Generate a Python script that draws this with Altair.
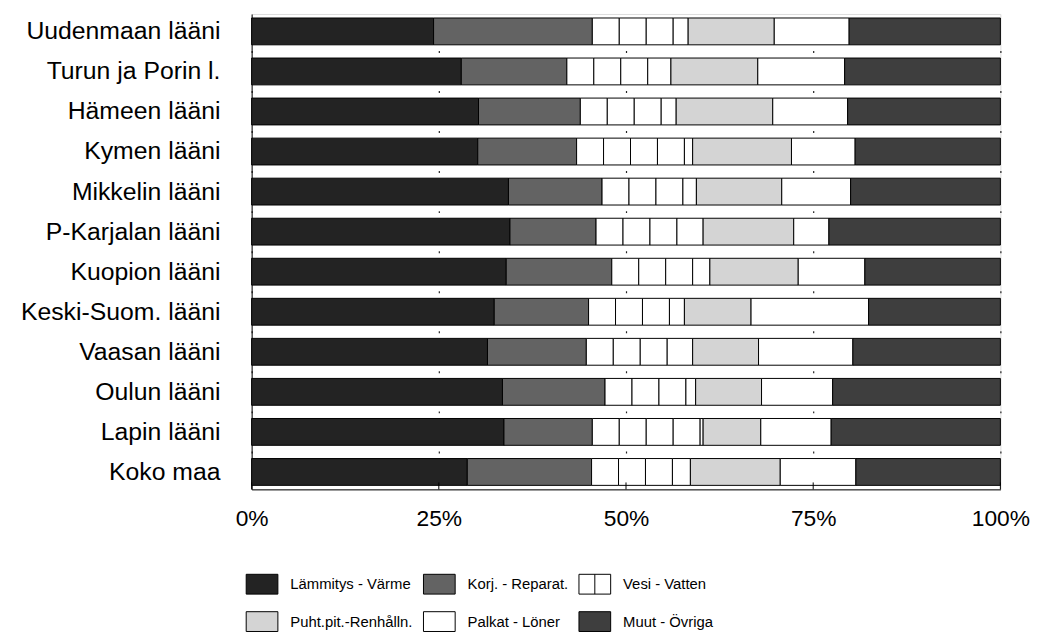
import altair as alt
import pandas as pd

regions = ["Uudenmaan lääni", "Turun ja Porin l.", "Hämeen lääni", "Kymen lääni",
           "Mikkelin lääni", "P-Karjalan lääni", "Kuopion lääni", "Keski-Suom. lääni",
           "Vaasan lääni", "Oulun lääni", "Lapin lääni", "Koko maa"]

lammitys = [24.3, 28.0, 30.3, 30.2, 34.3, 34.5, 34.0, 32.4, 31.5, 33.5, 33.7, 28.8]
korj     = [21.2, 14.1, 13.6, 13.2, 12.5, 11.5, 14.1, 12.6, 13.2, 13.7, 11.8, 16.6]
vesi     = [12.8, 13.9, 12.8, 15.5, 12.6, 14.3, 13.1, 12.8, 14.2, 12.1, 14.8, 13.2]
puht     = [11.5, 11.6, 12.9, 13.2, 11.4, 12.1, 11.8, 8.9, 8.8, 8.8, 7.7, 12.0]
palkat   = [10.0, 11.6, 10.0, 8.5, 9.2, 4.7, 8.9, 15.7, 12.6, 9.5, 9.4, 10.1]
muut     = [20.2, 20.8, 20.4, 19.4, 20.0, 22.9, 18.1, 17.6, 19.7, 22.4, 22.6, 19.3]

series_names = ["Lämmitys - Värme", "Korj. - Reparat.", "Vesi - Vatten",
                "Puht.pit.-Renhålln.", "Palkat - Löner", "Muut - Övriga"]
series_values = [lammitys, korj, vesi, puht, palkat, muut]
series_colors = ["#232323", "#636363", "#ffffff", "#d4d4d4", "#ffffff", "#3e3e3e"]

tick_values = [0, 25, 50, 75, 100]
vesi_stripe = 3.6  # width of the striped cells in the "Vesi" pattern

# legend symbol shapes (rectangles, Vesi with a middle line)
rect_path = "M-1,-0.625H1V0.625H-1Z"
vesi_path = "M-1,-0.625H1V0.625H-1Z M0,-0.625V0.625"
legend_shapes = [rect_path, rect_path, vesi_path, rect_path, rect_path, rect_path]

rows = []
for i, reg in enumerate(regions):
    start = 0.0
    for name, vals in zip(series_names, series_values):
        end = start + vals[i]
        if name == "Vesi - Vatten":
            s = start
            while s < end - 0.3:
                e = min(s + vesi_stripe, end)
                rows.append(dict(region=reg, series=name, x0=s, x1=e))
                s = e
        else:
            rows.append(dict(region=reg, series=name, x0=start, x1=end))
        start = end
df = pd.DataFrame(rows)

FONT = "Liberation Sans"

fill_scale = alt.Scale(domain=series_names, range=series_colors)
legend = alt.Legend(
    title=None, orient="none", legendX=-6, legendY=559, columns=3,
    direction="horizontal",
    symbolSize=1024, symbolStrokeColor="black", symbolStrokeWidth=1,
    labelFontSize=15, labelFont=FONT, labelColor="black", labelOffset=12,
    columnPadding=8, rowPadding=9, labelLimit=300,
)

y_enc = alt.Y(
    "region:N", sort=regions,
    scale=alt.Scale(paddingInner=0.33, paddingOuter=0.1),
    axis=alt.Axis(title=None, ticks=False, domain=True, domainColor="black",
                  domainWidth=1, labelFontSize=25, labelFont=FONT,
                  labelColor="black", labelPadding=32, labelLimit=400),
)
x_enc = alt.X(
    "x0:Q", scale=alt.Scale(domain=[0, 100], nice=False),
    axis=alt.Axis(title=None, values=tick_values, labelExpr="datum.value + '%'",
                  ticks=False, domain=True, domainColor="black", domainWidth=1,
                  labelFontSize=23, labelFont=FONT, labelColor="black",
                  labelPadding=18, labelFlush=False,
                  grid=True, gridColor="#222", gridWidth=1.2,
                  gridDash=[2, 38.44], gridDashOffset=3.64),
)

bars = alt.Chart(df).mark_bar(stroke="black", strokeWidth=1, opacity=1).encode(
    y=y_enc,
    x=x_enc,
    x2="x1:Q",
    fill=alt.Fill("series:N", scale=fill_scale, legend=legend),
)

legend_layer = alt.Chart(df).transform_filter("datum.x0 < -1").mark_point(
    filled=True, opacity=1, stroke="black", strokeWidth=1
).encode(
    y=alt.Y("region:N", sort=regions),
    x=alt.X("x0:Q"),
    fill=alt.Fill("series:N", scale=fill_scale, legend=legend),
    shape=alt.Shape("series:N", scale=alt.Scale(domain=series_names, range=legend_shapes),
                    legend=legend),
)

tick_df = pd.DataFrame({"t": tick_values})
ticks = alt.Chart(tick_df).mark_rule(color="black", strokeWidth=1).encode(
    x=alt.X("t:Q"), y=alt.value(480), y2=alt.value(473)
)

chart = alt.layer(bars, ticks, legend_layer).properties(
    width=756, height=480,
    autosize=alt.AutoSizeParams(type="none"),
    padding={"left": 246, "top": 3, "right": 40, "bottom": 144},
).configure_view(stroke=None).configure(font=FONT)

chart.save("out.html", embed_options={"renderer": "svg", "actions": False})
